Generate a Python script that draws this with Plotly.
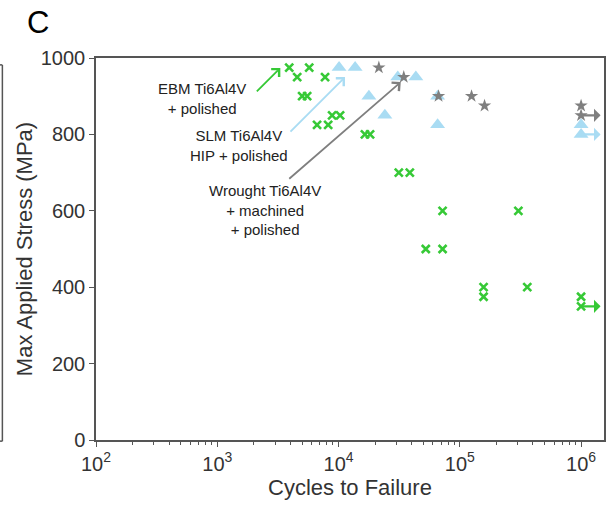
import numpy as np
import plotly.graph_objects as go

# ---- data ----
ebm_cycles = [3920, 4560, 5730, 7740, 5010, 5510, 8850, 10300, 6650, 8210,
              16500, 18200, 31400, 38700, 72100, 304000, 52400, 72100,
              157000, 157000, 360000, 1e6, 1e6]
ebm_stress = [975, 950, 975, 950, 900, 900, 850, 850, 825, 825,
              800, 800, 700, 700, 600, 600, 500, 500,
              400, 375, 400, 375, 350]

slm_cycles = [10100, 13700, 30800, 43400, 17800, 24100, 65600, 65600, 1e6, 1e6]
slm_stress = [975, 975, 950, 950, 900, 850, 900, 825, 825, 800]

wrought_cycles = [21500, 34500, 66800, 125000, 160000, 1e6, 1e6]
wrought_stress = [975, 950, 900, 900, 875, 875, 850]

# run-outs (no failure)
runout_cycles = [1e6, 1e6, 1e6]
runout_stress = [850, 800, 350]
runout_series = ["wrought", "slm", "ebm"]

x_tick_vals = [1e2, 1e3, 1e4, 1e5, 1e6]
x_tick_text = ["10<sup>2</sup>", "10<sup>3</sup>", "10<sup>4</sup>", "10<sup>5</sup>", "10<sup>6</sup>"]
y_tick_vals = [0, 200, 400, 600, 800, 1000]

GREEN = "#36c936"
BLUE = "#a9dcf3"
GRAY = "#7f7f7f"
colors = {"ebm": GREEN, "slm": BLUE, "wrought": GRAY}

FONT = "Liberation Sans, Arial, sans-serif"

fig = go.Figure()
fig.add_trace(go.Scatter(x=ebm_cycles, y=ebm_stress, mode="markers",
                         marker=dict(symbol="x-thin", size=8, color=GREEN,
                                     line=dict(color=GREEN, width=2.6)),
                         showlegend=False))
fig.add_trace(go.Scatter(x=slm_cycles, y=slm_stress, mode="markers",
                         marker=dict(symbol="triangle-up", size=13, color=BLUE,
                                     line=dict(width=0)),
                         showlegend=False))
fig.add_trace(go.Scatter(x=wrought_cycles, y=wrought_stress, mode="markers",
                         marker=dict(symbol="star", size=10, color=GRAY,
                                     line=dict(width=0)),
                         showlegend=False))

annotations = []
# run-out arrows
for cx, sy, s in zip(runout_cycles, runout_stress, runout_series):
    annotations.append(dict(x=np.log10(cx), y=sy, xref="x", yref="y", text="",
                            showarrow=True, ax=21, ay=0, arrowside="start",
                            arrowhead=2, arrowsize=1.0, arrowwidth=2.2,
                            arrowcolor=colors[s], standoff=0, startstandoff=0))

# labels
label_font = dict(family=FONT, size=15, color="#222222")
annotations += [
    dict(x=2.871, y=893, xref="x", yref="y", text="EBM Ti6Al4V<br>+ polished",
         showarrow=False, font=label_font, align="center"),
    dict(x=3.183, y=770, xref="x", yref="y", text="SLM Ti6Al4V<br>HIP + polished",
         showarrow=False, font=label_font, align="center"),
    dict(x=3.396, y=602, xref="x", yref="y", text="Wrought Ti6Al4V<br>+ machined<br>+ polished",
         showarrow=False, font=label_font, align="center"),
]
# pointer arrows
annotations += [
    dict(x=3.52, y=974, xref="x", yref="y", text="", showarrow=True,
         ax=-25, ay=25, arrowhead=4, arrowsize=1.2, arrowwidth=1.8, arrowcolor=GREEN),
    dict(x=4.053, y=950, xref="x", yref="y", text="", showarrow=True,
         ax=-56, ay=56, arrowhead=4, arrowsize=1.2, arrowwidth=1.8, arrowcolor=BLUE),
    dict(x=4.513, y=937, xref="x", yref="y", text="", showarrow=True,
         ax=-113, ay=98, arrowhead=4, arrowsize=1.2, arrowwidth=1.8, arrowcolor=GRAY),
]
# panel letter
annotations.append(dict(x=-0.115, y=1.094, xref="paper", yref="paper", text="C",
                        showarrow=False, font=dict(family=FONT, size=31, color="#000000"),
                        xanchor="center", yanchor="middle"))

# partial box of neighbouring panel
shapes = [
    dict(type="line", xref="paper", yref="paper", x0=-0.1843, x1=-0.1843,
         y0=0.982, y1=-0.003, line=dict(color="#555555", width=1.5)),
    dict(type="line", xref="paper", yref="paper", x0=-0.19, x1=-0.1843,
         y0=0.982, y1=0.982, line=dict(color="#555555", width=1.5)),
    dict(type="line", xref="paper", yref="paper", x0=-0.19, x1=-0.1843,
         y0=-0.003, y1=-0.003, line=dict(color="#555555", width=1.5)),
]

minor_vals = [m * 10 ** e for e in range(2, 7) for m in range(2, 10)]

fig.update_layout(
    width=610, height=505,
    margin=dict(l=96, r=4, t=58, b=65),
    paper_bgcolor="white", plot_bgcolor="white",
    font=dict(family=FONT, color="#333333"),
    annotations=annotations, shapes=shapes,
    showlegend=False,
)
fig.update_xaxes(type="log", range=[2, 6.189],
                 tickmode="array", tickvals=x_tick_vals, ticktext=x_tick_text,
                 ticks="outside", ticklen=5, tickwidth=1.2, tickcolor="#555555",
                 showline=True, linecolor="#555555", linewidth=1.5, mirror=True,
                 showgrid=False, zeroline=False,
                 tickfont=dict(family=FONT, size=20, color="#333333"),
                 minor=dict(tickmode="array", tickvals=minor_vals, ticks="outside",
                            ticklen=3, tickwidth=1, tickcolor="#555555", showgrid=False),
                 title=dict(text="Cycles to Failure", standoff=3,
                            font=dict(family=FONT, size=22, color="#333333")))
fig.update_yaxes(range=[0, 1000], tickmode="array", tickvals=y_tick_vals,
                 ticks="outside", ticklen=5, tickwidth=1.2, tickcolor="#555555",
                 showline=True, linecolor="#555555", linewidth=1.5, mirror=True,
                 showgrid=False, zeroline=False,
                 tickfont=dict(family=FONT, size=20, color="#333333"),
                 title=dict(text="Max Applied Stress (MPa)", standoff=2,
                            font=dict(family=FONT, size=22, color="#333333")))

fig.write_html("out.html")
